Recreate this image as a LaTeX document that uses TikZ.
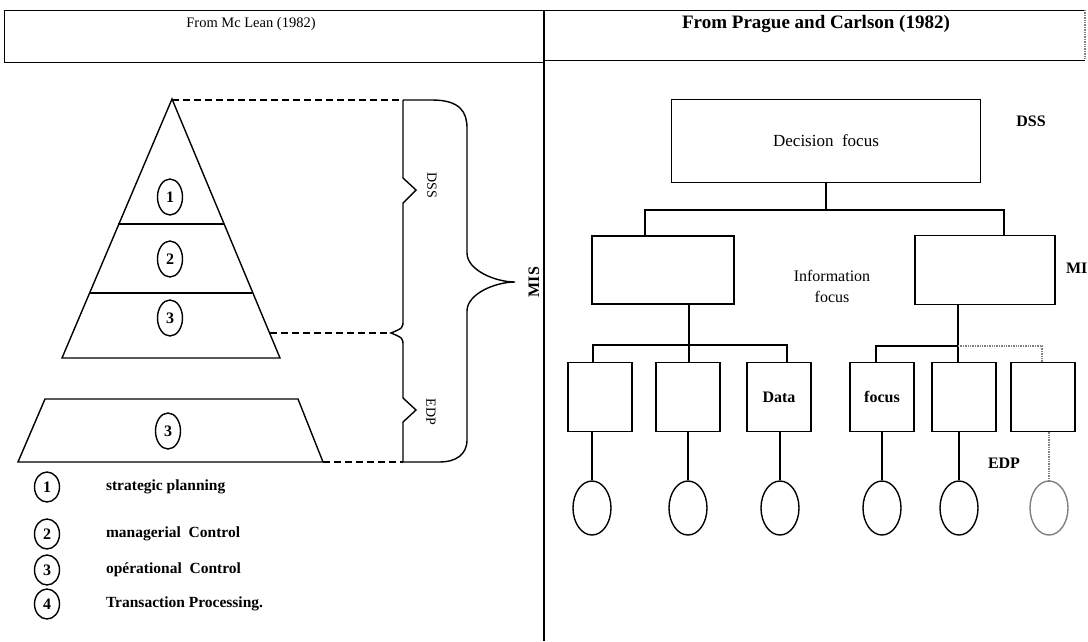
\documentclass[tikz,border=0pt]{standalone}
\usepackage{fontspec}
\setmainfont{Liberation Serif}
\usetikzlibrary{shapes.geometric}

\begin{document}
\begin{tikzpicture}[x=1pt,y=-1pt,line width=1.4pt,
  box/.style={draw,inner sep=0pt},
  oval/.style={draw,ellipse,inner sep=0pt,minimum width=38pt,minimum height=54pt},
  num/.style={draw,ellipse,inner sep=0pt,font=\fontsize{16}{18}\selectfont\bfseries},
  tag/.style={font=\fontsize{16}{19}\selectfont\bfseries},
  link/.style={dash pattern=on 7pt off 4pt},
  faint/.style={gray,densely dotted}]
\path[use as bounding box,clip] (0,0) rectangle (1088,641);

% header
\draw[line width=0.9pt] (4,10) rectangle (544,62);
\draw[line width=0.9pt] (544,10) -- (1085,10) (544,60) -- (1085,60);
\draw[faint] (1085,10) -- (1085,60);
\draw[line width=1.6pt] (544,10) -- (544,641);
\node (titleL) at (251,24) {\fontsize{14.5}{17}\selectfont From Mc Lean (1982)};
\node (titleR) at (816,24) {\fontsize{19}{22}\selectfont\bfseries From Prague and Carlson (1982)};

% pyramid
\draw (172,99) -- (280,358) -- (62,358) -- cycle;
\draw (118,224) -- (224,224);
\draw (89,293) -- (252,293);
\draw (45,399) -- (298,399) -- (323,462) -- (18,462) -- cycle;
\node[num,minimum width=25pt,minimum height=36pt] (p1) at (170,197) {1};
\node[num,minimum width=25pt,minimum height=36pt] (p2) at (170,259) {2};
\node[num,minimum width=25pt,minimum height=36pt] (p3) at (170,318) {3};
\node[num,minimum width=25pt,minimum height=36pt] (p4) at (168,431) {3};

% braces
\draw[link] (172,100) -- (403,100);
\draw[link] (270,333) -- (391,333);
\draw[link] (323,462) -- (403,462);
\draw (403,100) -- (403,178) -- (416,190) -- (403,203) -- (403,320)
  .. controls (403,328) .. (391,333) .. controls (403,338) .. (403,346)
  -- (403,398) -- (416,410) -- (403,422) -- (403,462);
\draw (403,100) -- (432,100) .. controls (460,100) and (467,112) .. (467,128)
  -- (467,253) .. controls (467,270) and (495,282) .. (515,282)
  .. controls (495,282) and (467,294) .. (467,311)
  -- (467,440) .. controls (467,455) and (455,462) .. (440,462) -- (403,462);
\node[rotate=-90] (dssL) at (432,185) {\fontsize{14}{16}\selectfont DSS};
\node[rotate=-90] (edpL) at (431,412) {\fontsize{14}{16}\selectfont EDP};
\node[rotate=90,tag] (misL) at (534,282) {MIS};

% legend
\foreach \y/\n/\t in {487/1/strategic planning,534/2/managerial\ \ Control,570/3/opérational\ \ Control,604/4/Transaction Processing.}{
  \node[num,minimum width=25pt,minimum height=30pt] (l\n) at (47,\y) {\n};
  \node[anchor=west,font=\fontsize{15.5}{18}\selectfont\bfseries] (lt\n) at (102,\y) {\t};
}

% right tree
\node[box,minimum width=309pt,minimum height=83pt,font=\fontsize{17}{20}\selectfont] (dec) at (826,141) {Decision\ \ focus};
\node[tag] (dss) at (1031,121) {DSS};
\node[box,minimum width=142pt,minimum height=68pt] (infoL) at (663,270) {};
\node[box,minimum width=140pt,minimum height=69pt] (infoR) at (985,270) {};
\node[align=center,font=\fontsize{16}{21}\selectfont] (info) at (832,286) {Information\\focus};
\node[tag,anchor=west] (mis) at (1062,268) {MIS};
\foreach \x/\n/\t in {600/b1/{},688/b2/{},779/b3/Data,882/b4/focus,964/b5/{},1043/b6/{}}
  \node[box,tag,minimum width=64pt,minimum height=69pt] (\n) at (\x,397) {\t};
\foreach \x/\n in {592/e1,688/e2,780/e3,882/e4,959/e5}
  \node[oval] (\n) at (\x,508) {};
\node[oval,draw=gray] (e6) at (1049,508) {};
\node[tag] (edp) at (1004,463) {EDP};

\coordinate (top) at (826,210);
\draw (dec) -- (top);
\draw ([xshift=-18pt]infoL.north) |- (top) -| ([xshift=19pt]infoR.north);
\coordinate (busL) at (689,345);
\draw[line width=2pt] (infoL.south -| busL) -- (busL);
\draw ([xshift=-7pt]b1.north) |- (busL) -| ([xshift=8pt]b3.north);
\draw (busL) -- (b2.north -| busL);
\coordinate (busR) at (958,346);
\draw[line width=2pt] (infoR.south -| busR) -- (b5.north -| busR);
\draw ([xshift=-6pt]b4.north) |- (busR);
\draw[faint] (busR) -| ([xshift=-1pt]b6.north);
\foreach \e/\b in {e1/b1,e2/b2,e3/b3,e4/b4,e5/b5}
  \draw (\e.north |- \b.south) -- (\e.north);
\draw[faint] (e6.north |- b6.south) -- (e6.north);
\end{tikzpicture}
\end{document}
